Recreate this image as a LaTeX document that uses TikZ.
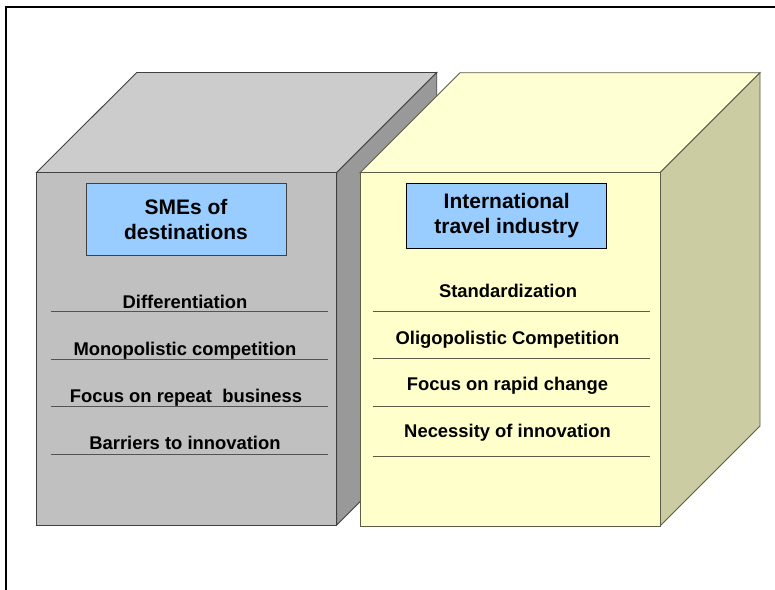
\documentclass[tikz,border=0pt]{standalone}
\usepackage{fontspec}
\setmainfont{Liberation Sans}
\definecolor{gfront}{HTML}{C0C0C0}
\definecolor{gtop}{HTML}{CCCCCC}
\definecolor{gside}{HTML}{999999}
\definecolor{gedge}{HTML}{404040}
\definecolor{yfront}{HTML}{FFFFCC}
\definecolor{ytop}{HTML}{FFFFD4}
\definecolor{yside}{HTML}{CCCCA3}
\definecolor{yedge}{HTML}{5C5C48}
\definecolor{tblue}{HTML}{99CCFF}
\tikzset{
  gface/.style={draw=gedge, line width=0.9pt, line join=miter},
  yface/.style={draw=yedge, line width=0.9pt, line join=miter},
  titlebox/.style={draw=#1, line width=0.9pt, fill=tblue, minimum width=200pt, align=center,
     font=\fontsize{21}{25.5}\selectfont\bfseries, inner sep=0pt},
  item/.style={font=\fontsize{18.4}{22}\selectfont\bfseries, inner sep=0pt, anchor=base},
  sepline/.style={line width=1pt},
}
\begin{document}
\begin{tikzpicture}[x=1pt,y=-1pt]
\useasboundingbox (0,0) rectangle (775,589);
\clip (0,0) rectangle (775,589);
\fill[white] (0,0) rectangle (775,589);
% outer frame
\draw[line width=2pt] (6,800) -- (6,6.5) -- (800,6.5);
% left cube
\filldraw[gface, fill=gtop] (36.5,172.5) -- (136.7,72.5) -- (436.7,72.5) -- (336.7,172.5) -- cycle;
\filldraw[gface, fill=gside] (336.7,172.5) -- (436.7,72.5) -- (436.7,425) -- (336.7,525) -- cycle;
\filldraw[gface, fill=gfront] (36.5,172.5) rectangle (336.7,525);
% right cube
\filldraw[yface, fill=ytop] (360,172.7) -- (460,72.7) -- (760,72.7) -- (660,172.7) -- cycle;
\filldraw[yface, fill=yside] (660,172.7) -- (760,72.7) -- (760,426) -- (660,526) -- cycle;
\filldraw[yface, fill=yfront] (360,172.7) rectangle (660,526);
% titles
\node[titlebox=gedge, minimum height=72pt] (t1) at (186,219.3) {SMEs of\\destinations};
\node[titlebox=black, minimum height=65pt] (t2) at (506.7,215.8) {International\\travel industry};
% left items
\node[item] (l1) at (185,308.3) {Differentiation};
\node[item] (l2) at (185,355.5) {Monopolistic competition};
\node[item] (l3) at (186,402.7) {Focus on repeat\ \ business};
\node[item] (l4) at (185,449.5) {Barriers to innovation};
\foreach \yy in {311.7,359,406,454.3}
  \draw[sepline, draw=gedge!90] (50.7,\yy) -- (327.7,\yy);
% right items
\node[item] (r1) at (508,297) {Standardization};
\node[item] (r2) at (507.5,344.3) {Oligopolistic Competition};
\node[item] (r3) at (507.5,390.3) {Focus on rapid change};
\node[item] (r4) at (507.5,437) {Necessity of innovation};
\foreach \yy in {311,358.3,406.7,456.7}
  \draw[sepline, draw=yedge] (373.3,\yy) -- (650,\yy);
\end{tikzpicture}
\end{document}
